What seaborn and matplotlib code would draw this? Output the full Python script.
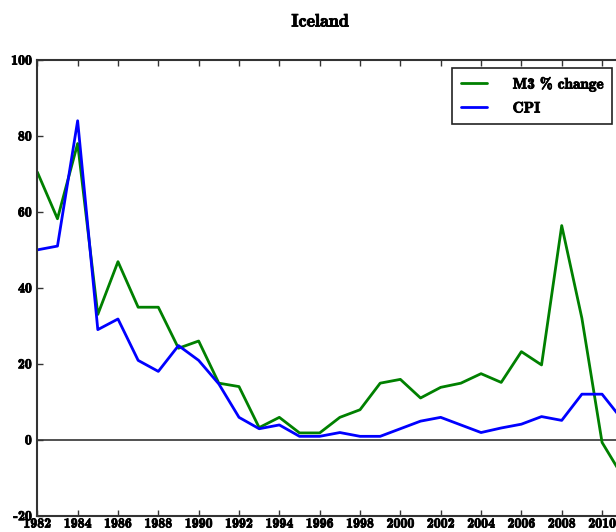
import numpy as np
import pandas as pd
import matplotlib
matplotlib.use('Agg')
import matplotlib.pyplot as plt
import matplotlib.patheffects as pe
import seaborn as sns


# Yearly values
YEARS = list(range(1982, 2012))
M3_CHANGE = [70.5, 58.2, 78.0, 33.0, 46.9, 34.9, 34.9, 24.1, 26.0, 14.9,
             14.0, 3.2, 5.9, 1.8, 1.8, 5.9, 7.9, 14.9, 15.9, 11.0,
             13.8, 14.9, 17.4, 15.1, 23.2, 19.7, 56.4, 32.0, -0.7, -9.5]
CPI = [50.0, 51.0, 84.0, 29.0, 31.8, 20.9, 18.0, 24.8, 20.9, 14.7,
       5.9, 2.9, 3.9, 0.9, 0.9, 1.9, 0.9, 0.9, 2.9, 4.9,
       5.9, 3.9, 1.9, 3.1, 4.1, 6.1, 5.1, 12.0, 12.0, 5.3]

X_TICKS = list(range(1982, 2012, 2))
Y_TICKS = [-20, 0, 20, 40, 60, 80, 100]


sns.set_style('ticks')
plt.rcParams['font.family'] = ['cmb10', 'DejaVu Serif']
plt.rcParams['axes.unicode_minus'] = False
plt.rcParams['xtick.direction'] = 'in'
plt.rcParams['ytick.direction'] = 'in'
plt.rcParams['text.color'] = 'black'
plt.rcParams['xtick.labelcolor'] = 'black'
plt.rcParams['ytick.labelcolor'] = 'black'

df = pd.DataFrame({'year': YEARS, 'M3 % change': M3_CHANGE, 'CPI': CPI})

fig = plt.figure(figsize=(6.16, 5.32), dpi=100)
# the axes run past the right edge of the picture, as in the reference
ax = fig.add_axes([37.3 / 616, 16.3 / 532, 605.1 / 616, 455.7 / 532])

sns.lineplot(data=df, x='year', y='M3 % change', color='#008000', lw=2.0,
             label='M3 % change', ax=ax)
sns.lineplot(data=df, x='year', y='CPI', color='#0000ff', lw=2.0,
             label='CPI', ax=ax)
ax.axhline(0, color='#333333', lw=1.2, zorder=1)

ax.set_xlim(1982, 2012)
ax.set_ylim(-20, 100)
ax.set_xticks(X_TICKS)
ax.set_yticks(Y_TICKS)
ax.set_xlabel('')
ax.set_ylabel('')
ax.tick_params(axis='both', labelsize=10, length=4, width=1, color='#333333',
               top=True, right=True)
ax.tick_params(axis='x', pad=2)
ax.tick_params(axis='y', pad=4)
for s in ax.spines.values():
    s.set_visible(True)
    s.set_color('#333333')
    s.set_linewidth(1.5)

# thicken the glyphs a little, the reference text is heavier
bold = [pe.withStroke(linewidth=0.6, foreground='black')]
for t in ax.get_xticklabels() + ax.get_yticklabels():
    t.set_path_effects(bold)

fig.text(320 / 616, 1 - 22 / 532, 'Iceland', ha='center', va='center',
         fontsize=13, path_effects=bold)

leg = ax.legend(loc='upper left', bbox_to_anchor=(452.3 / 616, 1 - 68.3 / 532),
                bbox_transform=fig.transFigure, fontsize=11, frameon=True,
                fancybox=False, handlelength=1.75, handletextpad=1.65,
                borderpad=0.55, labelspacing=0.65, borderaxespad=0)
leg.get_frame().set_edgecolor('#222222')
leg.get_frame().set_linewidth(1.2)
leg.get_frame().set_alpha(1)
for t in leg.get_texts():
    t.set_path_effects(bold)

fig.savefig('out.png', dpi=100)
